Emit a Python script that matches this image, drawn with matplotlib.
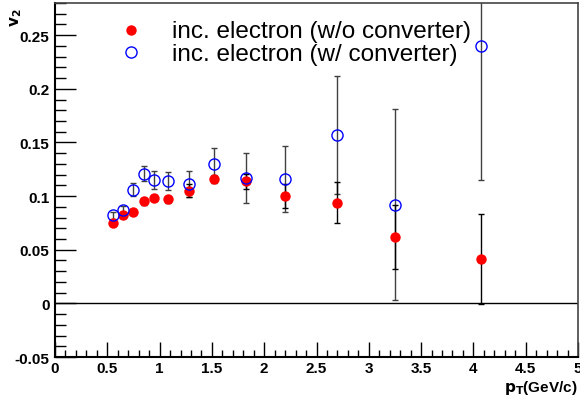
import matplotlib
matplotlib.use("Agg")
import matplotlib.pyplot as plt
from matplotlib.ticker import MultipleLocator

plt.rcParams['font.family'] = ['Liberation Sans', 'DejaVu Sans']

pt = [0.55, 0.65, 0.75, 0.85, 0.95, 1.08, 1.28, 1.52, 1.83, 2.20, 2.70, 3.25, 4.07]
v2_noconv = [0.075, 0.082, 0.085, 0.095, 0.098, 0.097, 0.105, 0.116, 0.114, 0.100, 0.094, 0.062, 0.041]
err_noconv = [0.002, 0.002, 0.002, 0.003, 0.003, 0.003, 0.006, 0.004, 0.007, 0.011, 0.019, 0.030, 0.042]
v2_conv = [0.082, 0.087, 0.106, 0.121, 0.115, 0.114, 0.111, 0.130, 0.117, 0.116, 0.157, 0.092, 0.240]
err_conv = [0.003, 0.004, 0.006, 0.007, 0.008, 0.008, 0.012, 0.015, 0.023, 0.031, 0.055, 0.089, 0.125]
labels = ['inc. electron (w/o converter)', 'inc. electron (w/ converter)']

W, H = 580, 402
fig = plt.figure(figsize=(W / 100, H / 100), dpi=100)
L, R, T, B = 55, 578, 4, 358
ax = fig.add_axes([L / W, 1 - B / H, (R - L) / W, (B - T) / H])

ax.errorbar(pt, v2_conv, yerr=err_conv, fmt='none', ecolor='#404040', elinewidth=1.0,
            capsize=2, capthick=1.0, zorder=2)
ax.errorbar(pt, v2_noconv, yerr=err_noconv, fmt='none', ecolor='black', elinewidth=1.0,
            capsize=2, capthick=1.0, zorder=2)
ax.plot(pt, v2_noconv, 'o', color='red', markersize=7.5, markeredgewidth=0, zorder=3)
ax.plot(pt, v2_conv, 'o', markerfacecolor='none', markeredgecolor='blue', markersize=8,
        markeredgewidth=1.0, zorder=4)

ax.axhline(0, color='black', linewidth=1.0, zorder=1)

ax.set_xlim(0, 5)
ax.set_ylim(-0.05, 0.28)

ax.xaxis.set_minor_locator(MultipleLocator(0.1))
ax.yaxis.set_minor_locator(MultipleLocator(0.01))

ax.tick_params(axis='x', which='major', direction='in', length=11, width=1, top=False,
               labelsize=11, pad=3)
ax.tick_params(axis='x', which='minor', direction='in', length=5, width=1, top=False)
ax.tick_params(axis='y', which='major', direction='in', length=15, width=1, right=False,
               labelsize=11, pad=4)
ax.tick_params(axis='y', which='minor', direction='in', length=8, width=1, right=False)

def fmt(v):
    s = ('%.2f' % v).rstrip('0').rstrip('.')
    if s == '-0':
        s = '0'
    return s

xt = [0, 0.5, 1, 1.5, 2, 2.5, 3, 3.5, 4, 4.5, 5]
ax.set_xticks(xt)
ax.set_xticklabels([fmt(v) for v in xt], fontweight='bold')
yt = [-0.05, 0, 0.05, 0.1, 0.15, 0.2, 0.25]
ax.set_yticks(yt)
ax.set_yticklabels([fmt(v) for v in yt], fontweight='bold')

for s in ['left', 'bottom']:
    ax.spines[s].set_linewidth(1.5)
    ax.spines[s].set_color('black')
for s in ['top', 'right']:
    ax.spines[s].set_linewidth(1.2)
    ax.spines[s].set_color('#444444')

fig.text(0.995, 0.035, r'$\mathbf{p_{T}}$(GeV/c)', ha='right', va='center',
         fontsize=11, fontweight='bold')
fig.text(0.028, 0.955, r'$\mathbf{v_{2}}$', ha='center', va='center', rotation=90,
         fontsize=11, fontweight='bold')

# legend (manual placement, figure pixel coordinates)
ax_leg = fig.add_axes([0, 0, 1, 1], facecolor='none')
ax_leg.set_xlim(0, W)
ax_leg.set_ylim(H, 0)
ax_leg.axis('off')
ax_leg.plot([131], [30.5], 'o', color='red', markersize=7.5, markeredgewidth=0)
ax_leg.plot([131], [53], 'o', markerfacecolor='none', markeredgecolor='blue',
            markersize=8, markeredgewidth=1.0)
ax_leg.text(172, 38, labels[0], ha='left', va='baseline', fontsize=17.5)
ax_leg.text(172, 61, labels[1], ha='left', va='baseline', fontsize=17.5)

fig.savefig('out.png', dpi=100)
